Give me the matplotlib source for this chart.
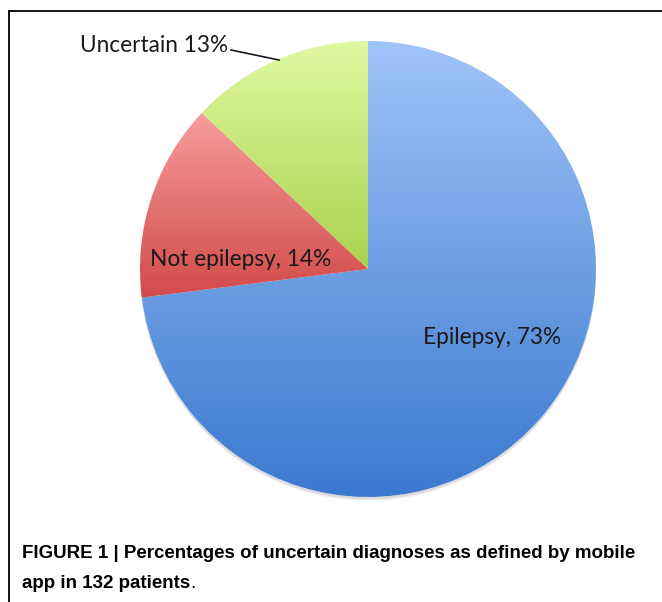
import numpy as np
import matplotlib.pyplot as plt
from matplotlib.colors import LinearSegmentedColormap
from matplotlib.patches import Circle

labels = ['Epilepsy, 73%', 'Not epilepsy, 14%', 'Uncertain 13%']
shares = [73, 14, 13]
# top / bottom colours of each slice's gradient
tops = ['#9fc4f8', '#f79c9c', '#e0f8a0']
bottoms = ['#3c79cf', '#d24a4a', '#a9d250']
caption1 = 'FIGURE 1 | Percentages of uncertain diagnoses as defined by mobile'
caption2 = 'app in 132 patients'

W, H = 662, 602
fig = plt.figure(figsize=(W / 100, H / 100), dpi=100)
ax = fig.add_axes([0, 0, 1, 1])

cx, cy, r = 368, H - 269, 228

# soft shadow below the pie
for k, a in [(4, 0.06), (3, 0.08), (2, 0.10)]:
    ax.add_patch(Circle((cx, cy - k), r, color='#555555', alpha=a, lw=0, zorder=1))

wedges, _ = ax.pie(shares, startangle=90, counterclock=False,
                   center=(cx, cy), radius=r,
                   wedgeprops=dict(linewidth=0, zorder=2))

for w, t, b in zip(wedges, tops, bottoms):
    w.set_facecolor('white')
    ext = w.get_path().get_extents()
    cmap = LinearSegmentedColormap.from_list('g', [b, t])
    grad = np.linspace(0, 1, 256).reshape(-1, 1)
    im = ax.imshow(grad, cmap=cmap, origin='lower', aspect='auto',
                   extent=[ext.x0, ext.x1, ext.y0, ext.y1], zorder=3)
    im.set_clip_path(w)

ax.set_xlim(0, W)
ax.set_ylim(0, H)
ax.set_aspect('auto')
ax.axis('off')

font = ['Lato', 'DejaVu Sans']
fs = 16.3
ax.text(492, H - 338, labels[0], fontsize=fs, family=font, color='#1a1a1a',
        ha='center', va='center', zorder=5)
ax.text(241, H - 259, labels[1], fontsize=fs, family=font, color='#1a1a1a',
        ha='center', va='center', zorder=5)
ax.text(228, H - 45, labels[2], fontsize=fs, family=font, color='#1a1a1a',
        ha='right', va='center', zorder=5)
ax.plot([231, 279], [H - 50, H - 60], color='#1a1a1a', lw=1.2, zorder=5)

# frame
ax.plot([9, W], [H - 11, H - 11], color='black', lw=1.3, clip_on=False)
ax.plot([9, 9], [H - 11, 0], color='black', lw=1.3, clip_on=False)

capfont = ['Liberation Sans', 'DejaVu Sans']
cfs = 13.5
ax.text(22, H - 553, caption1, fontsize=cfs, fontweight='bold',
        family=capfont, ha='left', va='center')
t2 = ax.text(22, H - 584, caption2, fontsize=cfs, fontweight='bold',
             family=capfont, ha='left', va='center')
fig.canvas.draw()
bb = t2.get_window_extent()
ax.text(bb.x1 - 0.5, H - 584, '.', fontsize=cfs, family=capfont,
        ha='left', va='center')

fig.savefig('out.png', dpi=100)
